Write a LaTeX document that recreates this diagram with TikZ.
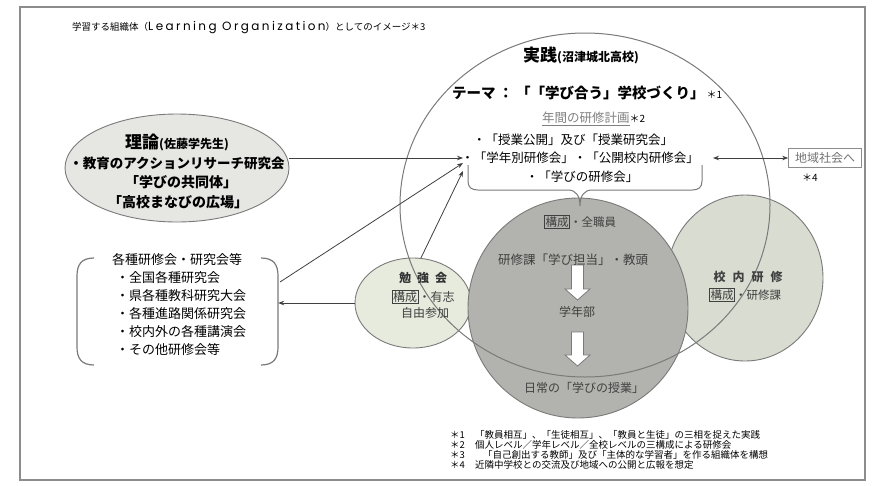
\documentclass[tikz,border=0pt]{standalone}
\usepackage{fontspec}
\setmainfont{Noto Sans CJK JP}
\newfontfamily\poppins[LetterSpace=20]{Poppins}
\usetikzlibrary{shapes.geometric,arrows.meta}
\definecolor{lineg}{HTML}{7A7A7A}
\definecolor{framec}{HTML}{8C8C8C}
\definecolor{rironc}{HTML}{E6E7E3}
\definecolor{benc}{HTML}{E6EBDD}
\definecolor{darkc}{HTML}{B2B2AE}
\definecolor{rightc}{HTML}{D9DCD1}
\definecolor{dtext}{HTML}{404040}
\newcommand{\fsz}[1]{\fontsize{#1}{#1}\selectfont}
\newcommand{\kbox}[1]{{\setlength{\fboxsep}{0.8pt}\setlength{\fboxrule}{0.7pt}\fbox{#1}}}
\begin{document}
\begin{tikzpicture}[x=1pt,y=-1pt,
  conn/.style={draw=black!75, line width=0.8pt, -{Stealth[length=6pt,width=4.5pt]}},
  shapeline/.style={draw=lineg, line width=0.9pt},
  txt/.style={inner sep=0pt, text=black},
  dtxt/.style={inner sep=0pt, text=dtext},
  fnote/.style={inner sep=0pt, anchor=west, font=\fsz{9.5}}]
\useasboundingbox (0,0) rectangle (872,485);
\fill[white] (0,0) rectangle (872,485);
\draw[framec, line width=1.3pt] (20,7) rectangle (865,480);

% title
\node[txt, anchor=west, font=\fsz{9.5}] (title) at (72,28)
  {学習する組織体（{\poppins\fsz{12}Learning Organization}）としてのイメージ＊3};

% shapes
\node[ellipse, shapeline, fill=rightc, minimum width=156pt, minimum height=166pt, inner sep=0pt] (konai) at (745,278) {};
\node[ellipse, shapeline, fill=benc, minimum width=116pt, minimum height=90pt, inner sep=0pt] (benkyo) at (413,303) {};
\node[circle, shapeline, fill=darkc, minimum size=220pt, inner sep=0pt] (kenshu) at (578,308) {};
\node[ellipse, shapeline, line width=1pt, minimum width=370pt, minimum height=344pt, inner sep=0pt] (jissen) at (585,205) {};
\node[ellipse, shapeline, fill=rironc, minimum width=224pt, minimum height=108pt, inner sep=0pt] (riron) at (177,168) {};
\node[minimum width=201pt, minimum height=107pt, inner sep=0pt] (kakushu) at (177.5,311.5) {};

% brackets of the list box
\draw[lineg, line width=1.2pt] (94,258) .. controls (81,258) and (77,265) .. (77,276) -- (77,347)
  .. controls (77,358) and (81,365) .. (94,365);
\draw[lineg, line width=1.2pt] (261,258) .. controls (274,258) and (278,265) .. (278,276) -- (278,347)
  .. controls (278,358) and (274,365) .. (261,365);

% brace under the plan list
\draw[lineg, line width=1pt] (468,165) -- (468,181) .. controls (468,187) and (471,190) .. (478,190)
  -- (568,190) .. controls (576,190) and (580,196) .. (580,206)
  .. controls (580,196) and (584,190) .. (592,190) -- (692,190)
  .. controls (699,190) and (702,187) .. (702,181) -- (702,165);

% block arrows
\filldraw[fill=white, draw=lineg, line width=0.8pt] (571.5,265) -- (583.5,265) -- (583.5,289) -- (590,289)
  -- (577.5,300) -- (565,289) -- (571.5,289) -- cycle;
\filldraw[fill=white, draw=lineg, line width=0.8pt] (571.5,332) -- (583.5,332) -- (583.5,355) -- (590,355)
  -- (577.5,366) -- (565,355) -- (571.5,355) -- cycle;

% theory texts
\node[txt] (r1) at (177,142) {\bfseries{\fsz{17}理論}{\fsz{12}(佐藤学先生)}};
\node[txt, font=\bfseries\fsz{13.5}] (r2) at (177,163) {・教育のアクションリサーチ研究会};
\node[txt, font=\bfseries\fsz{14}] (r3) at (181,182) {「学びの共同体」};
\node[txt, font=\bfseries\fsz{14}] (r4) at (178,202) {「高校まなびの広場」};

% list box texts
\node[txt, font=\fsz{13}] (k0) at (177,260) {各種研修会・研究会等};
\node[txt, anchor=west, font=\fsz{13}] (k1) at (116,278) {・全国各種研究会};
\node[txt, anchor=west, font=\fsz{13}] (k2t) at (116,296) {・県各種教科研究大会};
\node[txt, anchor=west, font=\fsz{13}] (k3) at (116,314) {・各種進路関係研究会};
\node[txt, anchor=west, font=\fsz{13}] (k4) at (116,332) {・校内外の各種講演会};
\node[txt, anchor=west, font=\fsz{13}] (k5) at (116,350) {・その他研修会等};

% practice texts
\node[txt, anchor=west] (j1) at (523,55) {\bfseries{\fsz{17}実践}{\fsz{12}(沼津城北高校)}};
\node[txt, anchor=west] (j2) at (452,93) {\bfseries\fsz{14.5}テーマ\hspace{3pt}：\hspace{3pt}「「学び合う」学校づくり」\hspace{2pt}{\mdseries\fsz{10}＊1}};
\node[txt, anchor=west] (j3) at (542,119) {{\color{black!50}\fsz{12.5}\underline{年間の研修計画}}{\fsz{10}＊2}};
\node[txt, font=\fsz{12.5}] (j4) at (573,140) {・「授業公開」及び「授業研究会」};
\node[txt, font=\fsz{12.5}] (j5) at (580,158) {・「学年別研修会」・「公開校内研修会」};
\node[txt, font=\fsz{12.5}] (j6) at (582,177) {・「学びの研修会」};

% dark circle texts
\node[dtxt, font=\fsz{11.5}] (d1) at (580,222) {\kbox{構成}・全職員};
\node[dtxt, font=\fsz{12.5}] (d2) at (573,260) {研修課「学び担当」・教頭};
\node[dtxt, font=\fsz{12}] (d3) at (577,312) {学年部};
\node[dtxt, font=\fsz{12}] (d4) at (584,388) {日常の「学びの授業」};

% study group texts
\node[txt, font=\bfseries\fsz{12}, text=black!80] (b1) at (423,278) {勉\hspace{6pt}強\hspace{6pt}会};
\node[dtxt, font=\fsz{12}] (b2) at (423,297) {\kbox{構成}・有志};
\node[dtxt, font=\fsz{12}] (b3) at (425,313) {自由参加};

% in-school training texts
\node[dtxt, font=\bfseries\fsz{12}] (s1) at (748,277) {校\hspace{7pt}内\hspace{7pt}研\hspace{7pt}修};
\node[dtxt, font=\fsz{11.5}] (s2) at (745,295) {\kbox{構成}・研修課};

% community box
\node[draw=black!45, line width=0.7pt, minimum width=73pt, minimum height=19pt, inner sep=0pt,
  text=black!55, font=\fsz{12}] (chiiki) at (825,158) {地域社会へ};
\node[txt, font=\fsz{10}] (n4) at (810,178) {＊4};

% connectors
\coordinate (p1) at (463,158);
\coordinate (p2) at (463,163);
\coordinate (p3) at (463,171);
\coordinate (k2) at (280,282);
\coordinate (q1) at (713,158);
\draw[conn] (riron.east |- p1) -- (p1);
\draw[conn] (k2) -- (p2);
\draw[conn] (benkyo.80) -- (p3);
\draw[conn] (benkyo.west) -- (benkyo.west -| kakushu.east);
\draw[conn, {Stealth[length=6pt,width=4.5pt]}-{Stealth[length=6pt,width=4.5pt]}] (q1) -- (chiiki.west);

% footnotes
\node[fnote] (f1a) at (450,435) {＊1};
\node[fnote] (f1) at (475,435) {「教員相互」、「生徒相互」、「教員と生徒」の三相を捉えた実践};
\node[fnote] (f2a) at (450,445) {＊2};
\node[fnote] (f2) at (475,445) {個人レベル／学年レベル／全校レベルの三構成による研修会};
\node[fnote] (f3a) at (450,455) {＊3};
\node[fnote] (f3) at (483,455) {「自己創出する教師」及び「主体的な学習者」を作る組織体を構想};
\node[fnote] (f4a) at (450,465) {＊4};
\node[fnote] (f4) at (475,465) {近隣中学校との交流及び地域への公開と広報を想定};
\end{tikzpicture}
\end{document}
